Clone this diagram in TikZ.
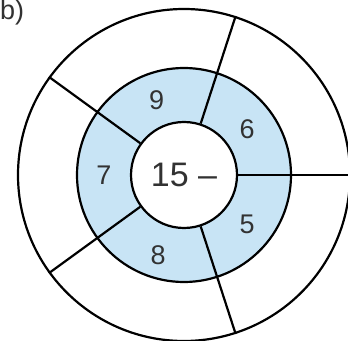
\documentclass[tikz,border=0pt]{standalone}
\usepackage{fontspec}
\setmainfont{Liberation Sans}
\usepackage{xcolor}
\usepackage{tikz}
\usetikzlibrary{positioning, calc}

\definecolor{ringblue}{RGB}{200,228,245}
\definecolor{numgray}{RGB}{50,50,50}

\begin{document}
\begin{tikzpicture}[
    x=1pt, y=1pt,
    ring/.style={draw, circle, line width=2.2pt, inner sep=0pt},
    spoke/.style={line width=2.2pt},
    num/.style={font=\fontsize{27}{27}\selectfont, text=numgray, inner sep=0pt}
]
\useasboundingbox (0,0) rectangle (348,340);
\coordinate (c) at (184,165);

% circles, outer to inner
\node[ring, fill=white, minimum size=332pt] (outer) at (c) {};
\node[ring, fill=ringblue, minimum size=214pt] (middle) at (c) {};
\node[ring, fill=white, minimum size=106pt] (inner) at (c) {};

% spokes
\foreach \a in {72,144,216,288} {
  \draw[spoke] (inner.\a) -- (outer.\a);
}
\draw[spoke] (inner.0) -- (348,165);

% numbers in the blue ring
\node[num] (n9) at ($(c)+(110:80)$) {9};
\node[num] (n6) at ($(c)+(36:78)$) {6};
\node[num] (n7) at ($(c)+(180:80)$) {7};
\node[num] (n8) at ($(c)+(252:84)$) {8};
\node[num] (n5) at ($(c)+(322:80)$) {5};
\node[num, font=\fontsize{34}{34}\selectfont] (centre) at (c) {15 --};

\node[num, anchor=base west] (label) at (0,320) {b)};
\end{tikzpicture}
\end{document}
